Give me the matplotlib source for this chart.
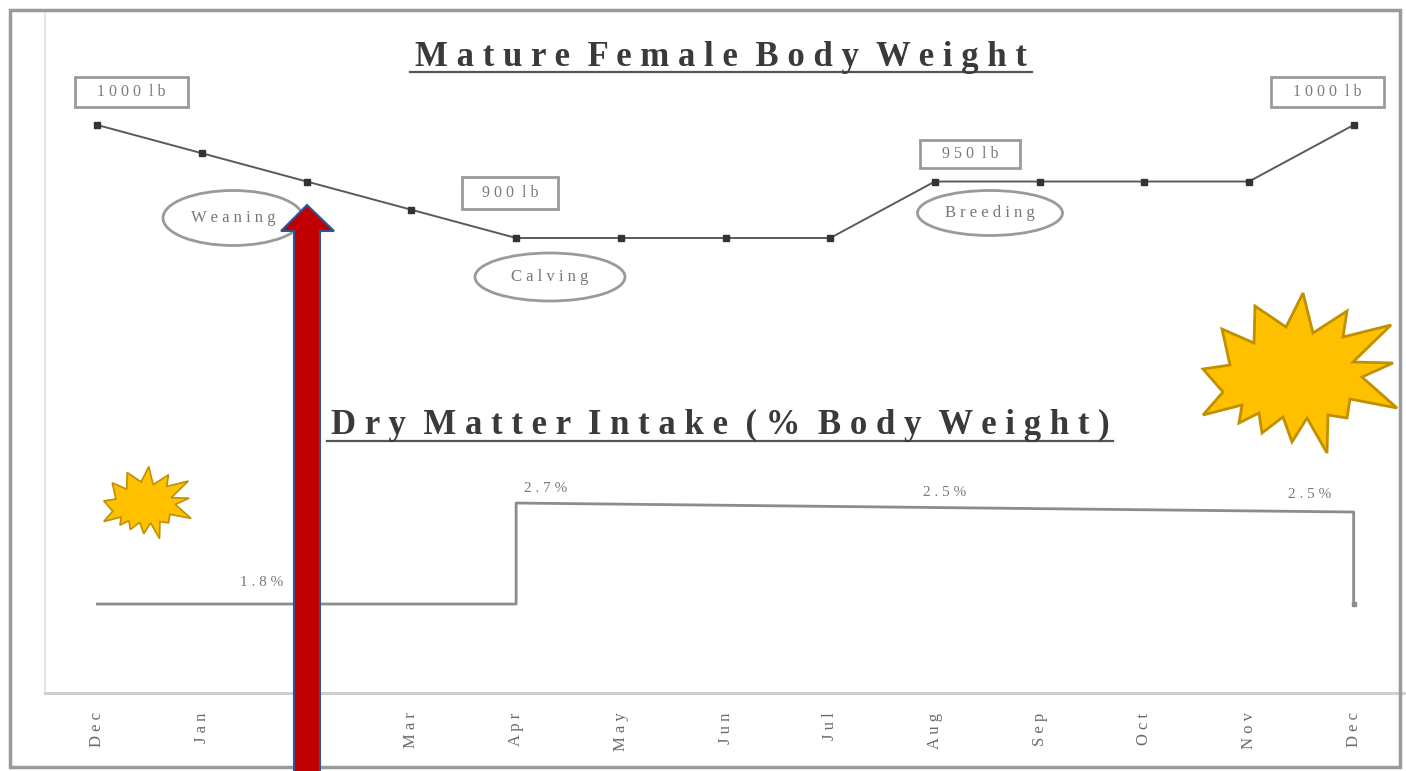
import matplotlib
matplotlib.use("Agg")
import matplotlib.pyplot as plt
from matplotlib.patches import Polygon, Ellipse, Rectangle
import numpy as np

# ---------------- data ----------------
months = ["Dec", "Jan", "Feb", "Mar", "Apr", "May", "Jun", "Jul", "Aug", "Sep", "Oct", "Nov", "Dec"]
body_weight = [1000, 975, 950, 925, 900, 900, 900, 900, 950, 950, 950, 950, 1000]
dmi_x = [0, 4, 4, 12, 12]
dmi_pct = [1.8, 1.8, 2.7, 2.62, 1.8]
weight_labels = ["1000 lb", "900 lb", "950 lb", "1000 lb"]
stage_labels = ["Weaning", "Calving", "Breeding"]
dmi_labels = ["1.8%", "2.7%", "2.5%", "2.5%"]
title_top = "Mature Female Body Weight"
title_bottom = "Dry Matter Intake (% Body Weight)"

W, H = 1406, 771
fig = plt.figure(figsize=(W / 100, H / 100), dpi=100)
fig.patch.set_facecolor("white")

SERIF = ["Liberation Serif", "DejaVu Serif"]


def spaced(s):
    return " ".join(s).replace("   ", "  ")


# ---------------- main axes ----------------
ax = fig.add_axes([45 / W, (H - 693) / H, (W - 45) / W, (693 - 10) / H])
ax.set_xlim(-0.5, 12.5)
ax.set_ylim(497.3, 1101.8)
x = np.arange(len(months))
ax.plot(x, body_weight, color="#5a5a5a", lw=1.4, marker="s", ms=4,
        mfc="#333333", mec="#333333", zorder=3)
ax.set_xticks(x)
ax.set_xticklabels([spaced(m) for m in months], rotation=90, family=SERIF,
                   fontsize=12, color="#6a6a6a")
ax.tick_params(axis="x", length=0, pad=14)
ax.set_yticks([])
for s in ["top", "right"]:
    ax.spines[s].set_visible(False)
ax.spines["left"].set_color("#e2e2e2")
ax.spines["left"].set_linewidth(1.2)
ax.spines["bottom"].set_color("#cfcfcf")
ax.spines["bottom"].set_linewidth(2.2)

ax2 = ax.twinx()
ax2.set_ylim(1.007, 7.094)
ax2.plot(dmi_x, dmi_pct, color="#8c8c8c", lw=2.0, zorder=3)
ax2.plot([dmi_x[-1]], [dmi_pct[-1]], marker="s", ms=3, color="#8c8c8c")
ax2.set_yticks([])
for s in ax2.spines.values():
    s.set_visible(False)

# ---------------- overlay (pixel coords) ----------------
ov = fig.add_axes([0, 0, 1, 1], zorder=10)
ov.set_xlim(0, W)
ov.set_ylim(H, 0)
ov.axis("off")
ov.patch.set_alpha(0)

# outer frame
ov.add_patch(Rectangle((10, 10), 1390, 757, fill=False, ec="#9a9a9a", lw=2.5))

# titles
ov.text(721, 57, spaced(title_top), ha="center", va="center", family=SERIF,
        fontweight="bold", fontsize=25, color="#3a3a3a")
ov.plot([410, 1032], [72, 72], color="#555555", lw=1.6)
ov.text(720, 425, spaced(title_bottom), ha="center", va="center", family=SERIF,
        fontweight="bold", fontsize=25, color="#3a3a3a")
ov.plot([327, 1113], [441, 441], color="#555555", lw=1.6)

# weight boxes
box_pos = [(131, 92, 113, 30), (510, 193, 96, 32), (970, 154, 100, 28), (1327, 92, 113, 30)]
for (bx, by, bw, bh), lab in zip(box_pos, weight_labels):
    ov.add_patch(Rectangle((bx - bw / 2, by - bh / 2), bw, bh, fc="white",
                           ec="#9a9a9a", lw=2))
    ov.text(bx, by, spaced(lab), ha="center", va="center", family=SERIF,
            fontsize=11.5, color="#7a7a7a")

# stage ellipses
ell_pos = [(233, 218, 140, 55), (550, 277, 150, 48), (990, 213, 145, 45)]
for (ex, ey, ew, eh), lab in zip(ell_pos, stage_labels):
    ov.add_patch(Ellipse((ex, ey), ew, eh, fill=False, ec="#9a9a9a", lw=2))
    ov.text(ex, ey, spaced(lab), ha="center", va="center", family=SERIF,
            fontsize=12, color="#777777")

# DMI labels
dmi_lab_pos = [(262, 582), (546, 488), (945, 492), (1310, 494)]
for (tx, ty), lab in zip(dmi_lab_pos, dmi_labels):
    ov.text(tx, ty, spaced(lab), ha="center", va="center", family=SERIF,
            fontsize=11, color="#777777")

# starbursts
burst = np.array([
    (1303, 293), (1313, 333), (1347, 311), (1343, 337), (1391, 325), (1353, 362),
    (1393, 363), (1362, 377), (1397, 408), (1350, 399), (1347, 418), (1328, 415),
    (1327, 453), (1307, 418), (1292, 442), (1283, 417), (1262, 433), (1259, 413),
    (1239, 423), (1242, 405), (1203, 415), (1223, 392), (1203, 369), (1230, 365),
    (1222, 329), (1254, 343), (1255, 306), (1286, 327)], dtype=float)
ov.add_patch(Polygon(burst, closed=True, fc="#FFC000", ec="#BF9000", lw=2, joinstyle="miter"))
c = burst.mean(axis=0)
small = (burst - c) * 0.45 + np.array([146, 505])
ov.add_patch(Polygon(small, closed=True, fc="#FFC000", ec="#BF9000", lw=1.2, joinstyle="miter"))

# red arrow
arrow = [(307, 205), (334, 231), (320, 231), (320, 775), (294, 775), (294, 231), (281, 231)]
ov.add_patch(Polygon(arrow, closed=True, fc="#C00000", ec="#2F5597", lw=1.5, joinstyle="miter"))

fig.savefig("out.png", dpi=100, facecolor="white")
